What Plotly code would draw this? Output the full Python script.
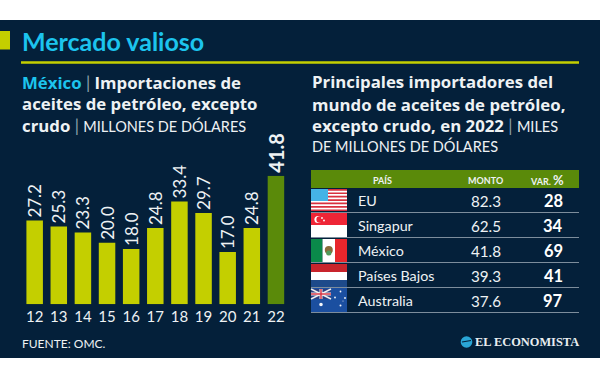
import plotly.graph_objects as go

years = ["12","13","14","15","16","17","18","19","20","21","22"]
imports = [27.2,25.3,23.3,20.0,18.0,24.8,33.4,29.7,17.0,24.8,41.8]
countries = ["EU","Singapur","México","Países Bajos","Australia"]
amounts = ["82.3","62.5","41.8","39.3","37.6"]
changes = ["28","34","69","41","97"]
table_headers = ["PAÍS","MONTO","VAR. <span style='font-size:13px'>%</span>"]

BG="#04203a"; LIME="#c4cf00"; GREEN="#5a8a0a"; CYAN="#1cc4ee"; WHITE="#ffffff"; TXT="#eef2f4"; SEP="#8fa0ae"
F="Lato"; HEAD="Open Sans"

W,H=600,375
fig=go.Figure()
x0,x1=22.6,288.0; y0,y1=304.3,175.7
fig.add_scatter(x=[0],y=[0],xaxis="x",yaxis="y",mode="markers",marker=dict(size=1,opacity=0),hoverinfo="skip")
labels=[f"<b><span style='font-size:20px'>{v:.1f}</span></b>" if y=="22" else f"{v:.1f}" for y,v in zip(years,imports)]
fig.add_bar(x=years,y=imports,xaxis="x2",yaxis="y2",
    marker=dict(color=[GREEN if y=="22" else LIME for y in years],line_width=0),
    text=labels,textposition="outside",textangle=-90,cliponaxis=False,constraintext="none",
    textfont=dict(family=F,size=17,color=TXT),hoverinfo="skip")

shapes=[]; ann=[]
def rect(a,b,c,d,col):
    shapes.append(dict(type="rect",xref="x",yref="y",x0=a,x1=c,y0=b,y1=d,fillcolor=col,line_width=0,layer="below"))
def line(a,b,c,d,col,w):
    shapes.append(dict(type="line",xref="x",yref="y",x0=a,x1=c,y0=b,y1=d,line=dict(color=col,width=w),layer="below"))
def dot(cx,cy,r,col):
    shapes.append(dict(type="circle",xref="x",yref="y",x0=cx-r,x1=cx+r,y0=cy-r,y1=cy+r,fillcolor=col,line_width=0,layer="below"))
def text(x,y,s,size,col=TXT,bold=False,anchor="left",fam=F):
    if bold: s=f"<b>{s}</b>"
    ann.append(dict(xref="x",yref="y",x=x,y=y,text=s,showarrow=False,xanchor=anchor,yanchor="middle",
        font=dict(family=fam,size=size,color=col),align=anchor))
def light(s):
    return f"<span style='font-family:Lato;font-size:14.5px;font-weight:400'>{s}</span>"
BAR=f"<span style='font-family:Lato;color:{SEP};font-weight:400'>|</span>"

rect(0,20,600,358,BG)
rect(0,31,10,49.5,LIME)
line(21,62.5,579,62.5,LIME,2.5)
text(19.5,41,"Mercado valioso",25,CYAN,True)

text(19.5,82,f"<b><span style='color:{CYAN}'>México</span> {BAR} Importaciones de</b>",16.8,fam=HEAD)
text(19.5,103,"<b>aceites de petróleo, excepto</b>",16.8,fam=HEAD)
text(19.5,125,f"<b>crudo</b> {BAR} {light('MILLONES DE DÓLARES')}",16.8,fam=HEAD)

text(309.5,81,"<b>Principales importadores del</b>",16.8,fam=HEAD)
text(309.5,104,"<b>mundo de aceites de petróleo,</b>",16.8,fam=HEAD)
text(309.5,125,f"<b>excepto crudo, en 2022</b> {BAR} {light('MILES')}",16.8,fam=HEAD)
text(309.5,146,light("DE MILLONES DE DÓLARES"),16.8,fam=HEAD)

text(19.5,343,"FUENTE: OMC.",12)

# table
rect(311,170,579,188,GREEN)
text(382,180,table_headers[0],9,TXT,True,"center")
text(485,180,table_headers[1],9,TXT,True,"center")
text(547,180,table_headers[2],9,TXT,True,"center")
rows=[200.5,225.5,250.5,275.5,300.5]
for i,yc in enumerate(rows):
    line(311,yc+12,579,yc+12,"#7d8d9c",1.2)
    text(356,yc,countries[i],14.3)
    text(503,yc,amounts[i],15.2,TXT,False,"right")
    text(553,yc,changes[i],16.5,WHITE,True,"center")

# flags
rect(311,189,347,211,"#ffffff")
for k in range(7):
    rect(311,189+k*3.4,347,190.7+k*3.4,"#d8303f")
rect(311,189,328,201,"#45b3e6")
rect(311,213,347,225,"#ee2536"); rect(311,225,347,237,"#ffffff")
dot(318,219.5,3.6,"#ffffff"); dot(319.6,219.5,3.2,"#ee2536"); dot(322,218,0.9,"#ffffff"); dot(324,220.5,0.9,"#ffffff")
rect(311,239,322.5,262,"#0a8a4a"); rect(322.5,239,335,262,"#ffffff"); rect(335,239,347,262,"#e8262c")
dot(328.8,250,4,"#8a6a3a"); dot(328.8,253,2.6,"#4f9a5a")
rect(311,264,347,272,"#c8242c"); rect(311,272,347,280,"#ffffff"); rect(311,280,347,287,"#1d4a8a")
rect(311,288,347,312,"#1b4fa0")
rect(311,289,331,299,"#2b3f80")
line(311,289,331,299,"#f0f0f0",1.5); line(311,299,331,289,"#f0f0f0",1.5)
line(311,294,331,294,"#f0f0f0",3); line(321,289,321,299,"#f0f0f0",3)
line(311,294,331,294,"#d8303f",1.4); line(321,289,321,299,"#d8303f",1.4)
for cx,cy,r in [(321,304.5,1.8),(340.5,291.5,0.9),(335,297.5,0.9),(345,298,0.9),(340.5,305.5,1.0),(343,301,0.5)]:
    dot(cx,cy,r,"#f4f6fa")

# logo
dot(466.5,342,5.8,"#2aa6d6")
line(462,342,471,340.5,BG,1.2)
text(472.5,342,"<b>EL ECONOMISTA</b>",12.4,"#e8edf0",False,"left","Liberation Serif")

fig.update_layout(width=W,height=H,margin=dict(l=0,r=0,t=0,b=0),paper_bgcolor="#ffffff",plot_bgcolor="rgba(0,0,0,0)",
    showlegend=False,bargap=0.316,shapes=shapes,annotations=ann,
    xaxis=dict(domain=[0,1],range=[0,W],visible=False,anchor="y",fixedrange=True),
    yaxis=dict(domain=[0,1],range=[H,0],visible=False,anchor="x",fixedrange=True),
    xaxis2=dict(domain=[x0/W,x1/W],type="category",anchor="y2",showgrid=False,showline=False,zeroline=False,ticks="",
        tickfont=dict(family=F,size=15,color=TXT),ticklabelstandoff=2,fixedrange=True),
    yaxis2=dict(domain=[1-y0/H,1-y1/H],range=[0,41.8],anchor="x2",visible=False,fixedrange=True),
)
fig.write_html("out.html",config=dict(displayModeBar=False),post_script="document.body.style.margin='0';")
